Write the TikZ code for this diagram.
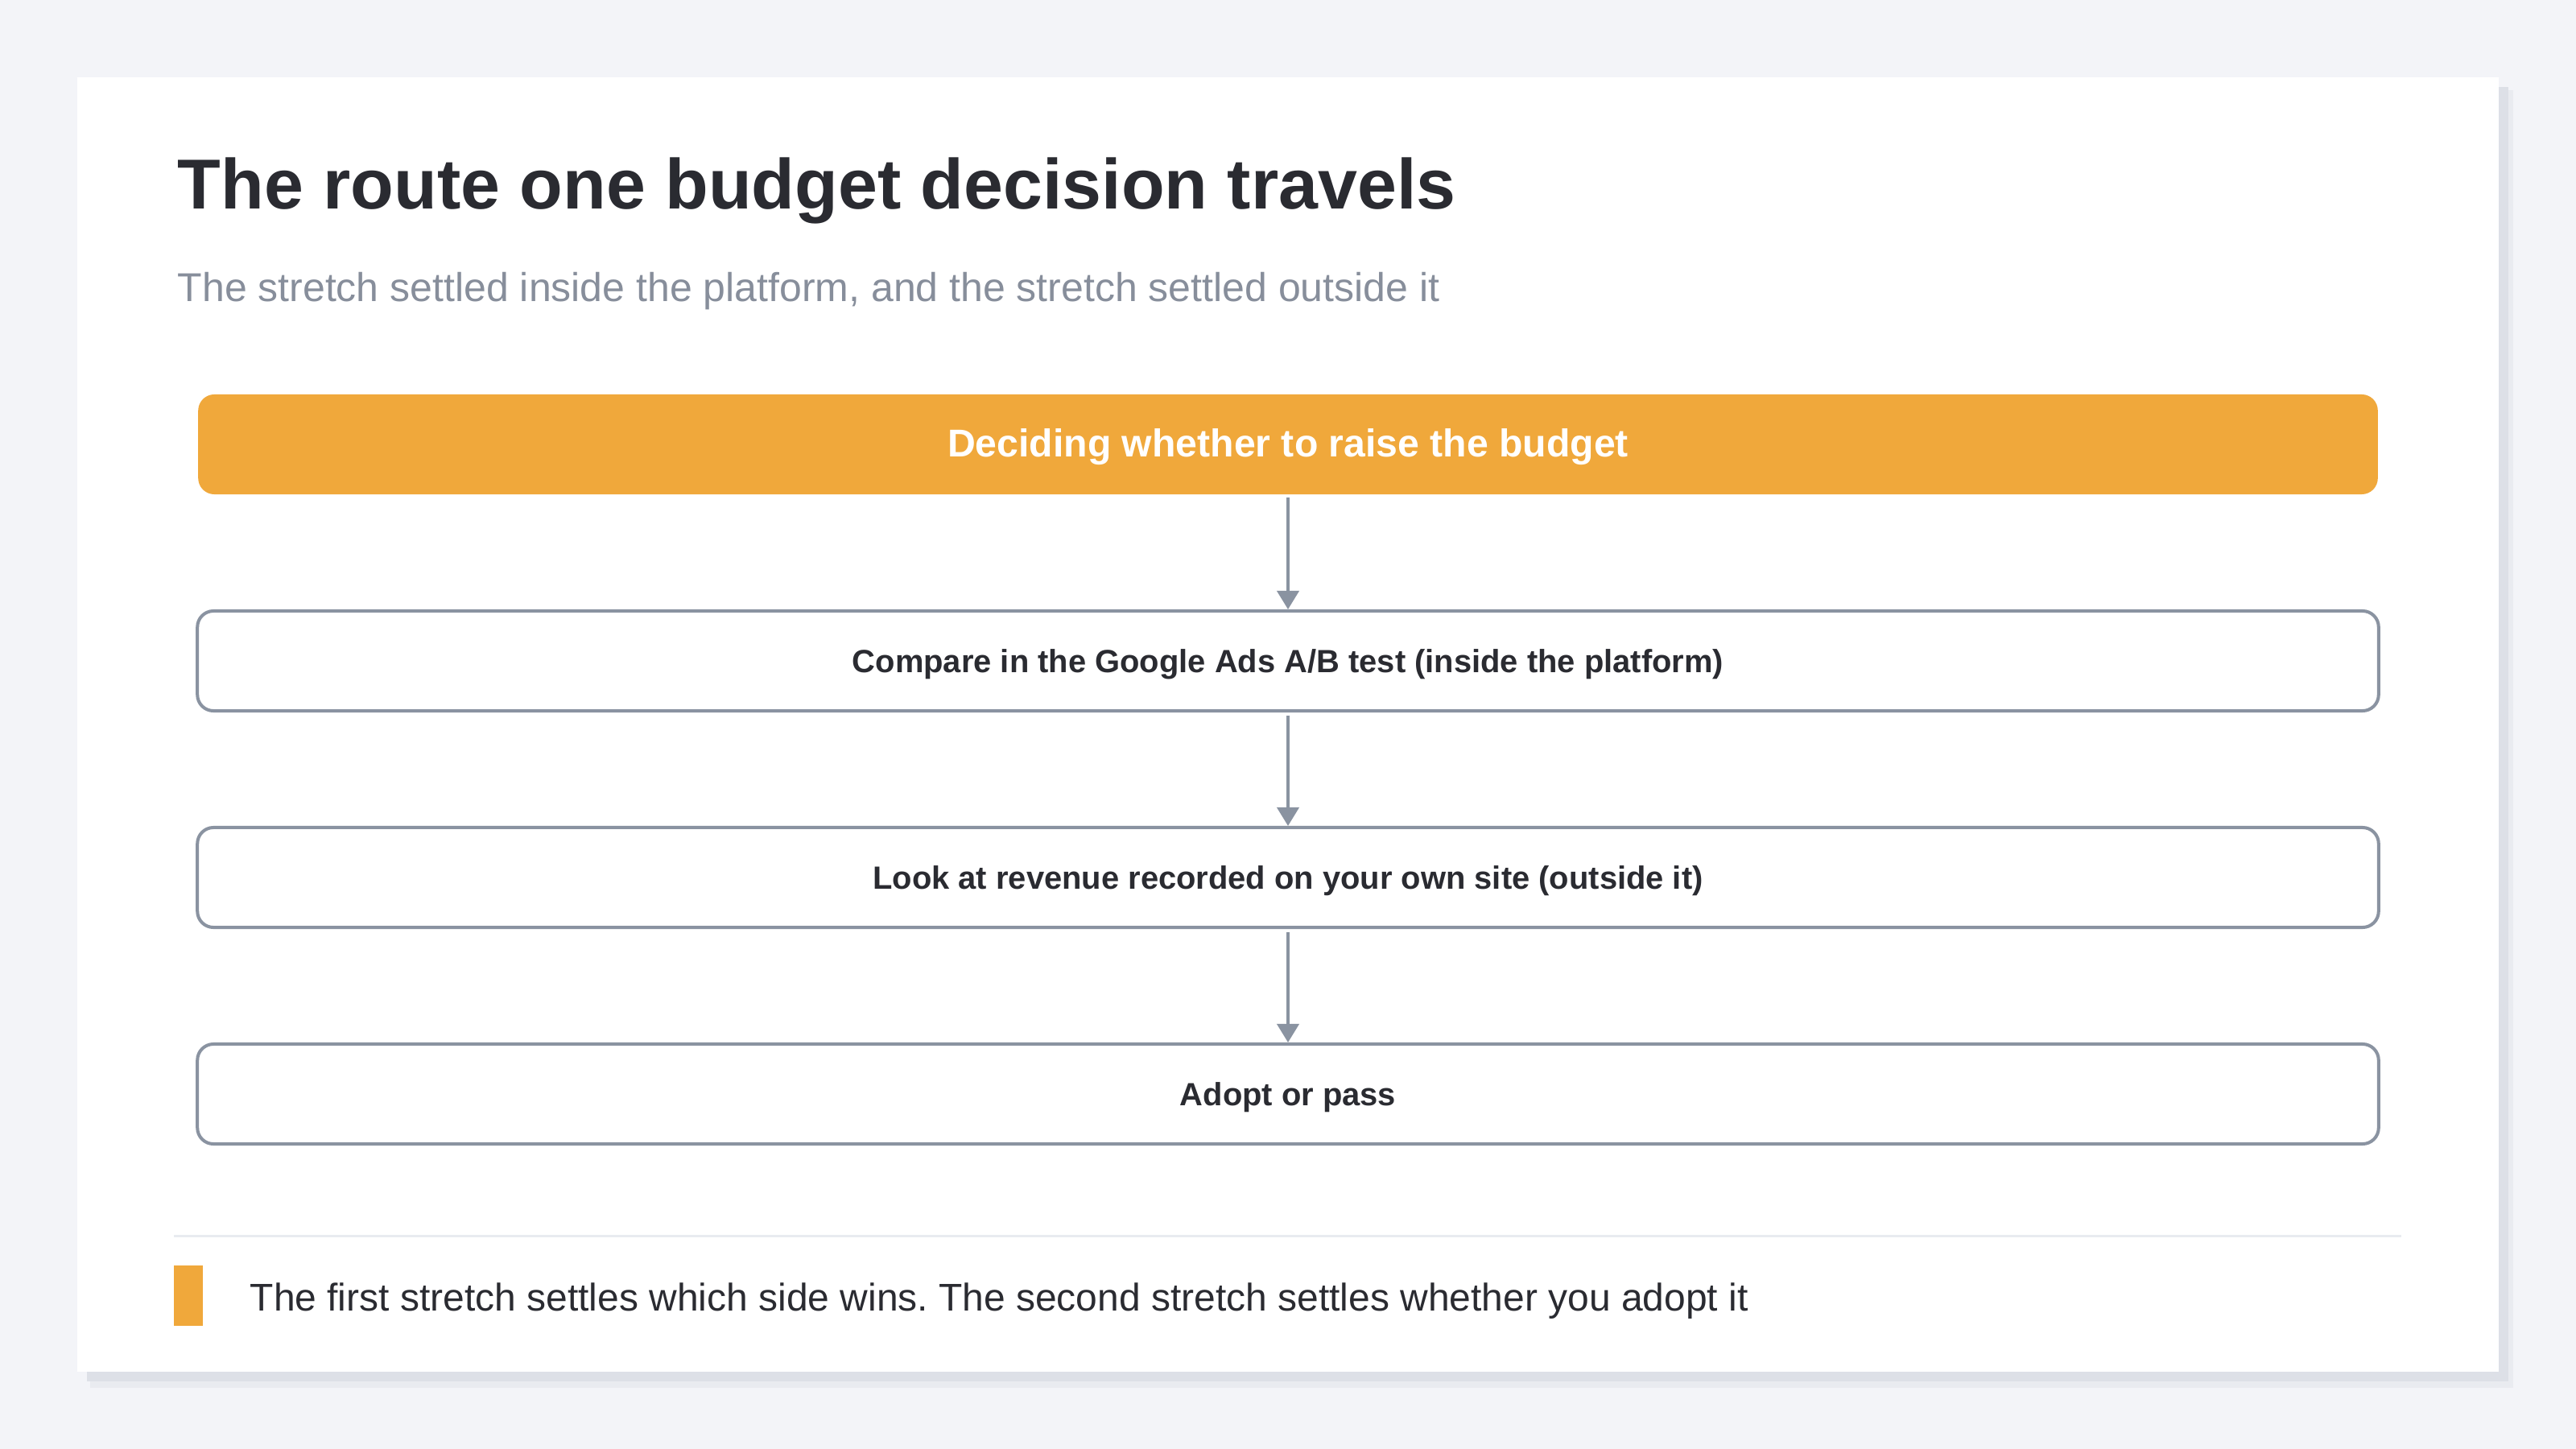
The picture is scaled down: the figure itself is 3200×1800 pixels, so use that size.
\documentclass[tikz,border=0pt]{standalone}
\usepackage{fontspec}
\setmainfont{Liberation Sans}
\usetikzlibrary{arrows.meta}
\frenchspacing

\definecolor{pagebg}{HTML}{F3F4F8}
\definecolor{shadowgray}{HTML}{DDE0E7}
\definecolor{halogray}{HTML}{E9EBF0}
\definecolor{inkdark}{HTML}{2A2B31}
\definecolor{subgray}{HTML}{878E9B}
\definecolor{linegray}{HTML}{8A93A1}
\definecolor{rulegray}{HTML}{E8EBF0}
\definecolor{budgetorange}{HTML}{F0A83B}

\tikzset{
  stepbox/.style={draw=linegray, line width=1.14pt, rounded corners=0.2cm, fill=white,
    minimum width=27.08cm, minimum height=1.24cm, text=inkdark,
    text height=0.92em, text depth=0.1em,
    font=\fontsize{11.35}{14}\selectfont\bfseries},
  topbox/.style={fill=budgetorange, rounded corners=0.2cm,
    minimum width=27.06cm, minimum height=1.24cm, text=white,
    text height=1.0em, text depth=0.1em,
    font=\fontsize{13.7}{17}\selectfont\bfseries},
  flow/.style={draw=linegray, line width=1.14pt, shorten <=1pt,
    -{Triangle[length=0.23cm, width=0.27cm]}}
}

\begin{document}
\begin{tikzpicture}[x=0.01cm, y=-0.01cm]
\fill[pagebg] (0,0) rectangle (3200,1800);
\useasboundingbox (0,0) rectangle (3200,1800);
\fill[halogray] (112,112) rectangle (3122,1724);
\fill[shadowgray] (108,108) rectangle (3116,1716);
\fill[white] (96,96) rectangle (3104,1704);

\node[anchor=base west, text=inkdark, font=\fontsize{25}{30}\selectfont\bfseries, inner sep=0pt] (title) at (220,259) {The route one budget decision travels};
\node[anchor=base west, text=subgray, font=\fontsize{14.22}{18}\selectfont, inner sep=0pt] (subtitle) at (220,374) {The stretch settled inside the platform, and the stretch settled outside it};

\node[topbox] (decide) at (1600,552) {Deciding whether to raise the budget};
\node[stepbox] (compare) at (1600,821) {Compare in the Google Ads A/B test (inside the platform)};
\node[stepbox] (revenue) at (1600,1090) {Look at revenue recorded on your own site (outside it)};
\node[stepbox] (adopt) at (1600,1359) {Adopt or pass};

\draw[flow] (decide) -- (compare);
\draw[flow] (compare) -- (revenue);
\draw[flow] (revenue) -- (adopt);

\draw[rulegray, line width=0.85pt] (216,1535) -- (2983,1535);
\fill[budgetorange] (216,1572) rectangle (252,1647);
\node[anchor=base west, text=inkdark, font=\fontsize{13.64}{17}\selectfont, inner sep=0pt] (note) at (310,1628) {The first stretch settles which side wins. The second stretch settles whether you adopt it};
\end{tikzpicture}
\end{document}
